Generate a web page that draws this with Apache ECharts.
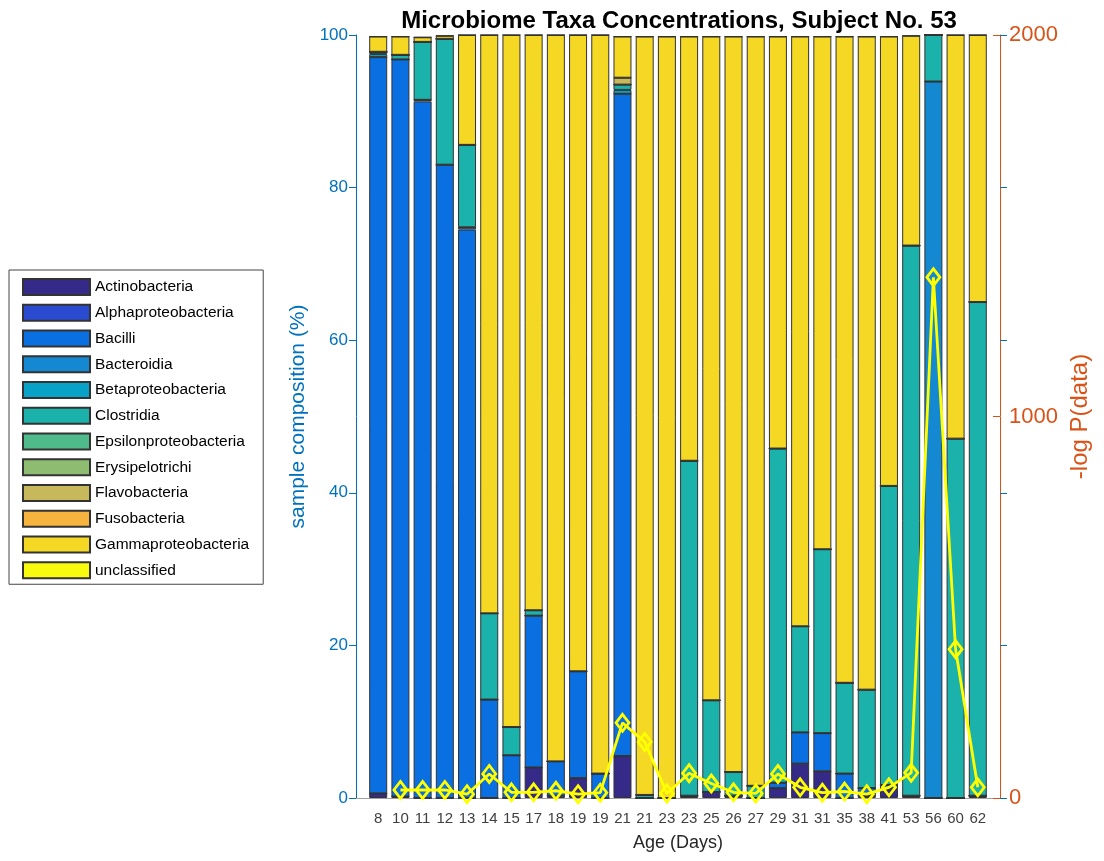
<!DOCTYPE html>
<html>
<head>
<meta charset="utf-8">
<script src="https://cdn.jsdelivr.net/npm/echarts@6/dist/echarts.min.js"></script>
<style>
html,body{margin:0;padding:0;background:#fff;}
#chart{width:1104px;height:861px;}
</style>
</head>
<body>
<div id="chart"></div>
<script>
// ---- DATA ----
const ages = [8,10,11,12,13,14,15,17,18,19,19,21,21,23,23,25,26,27,29,31,31,35,38,41,53,56,60,62];
const taxa = ['Actinobacteria','Alphaproteobacteria','Bacilli','Bacteroidia','Betaproteobacteria','Clostridia','Epsilonproteobacteria','Erysipelotrichi','Flavobacteria','Fusobacteria','Gammaproteobacteria','unclassified'];
const actinobacteria      = [0.6,0.2,0,0,0,0,0,4.0,0.3,2.6,0,5.5,0,0,0.3,0.8,0.3,0,1.3,4.5,3.5,0,0.3,1.2,0.3,0,0,0.3];
const alphaproteobacteria = [0,0,0,0,0,0,0,0,0,0,0,0,0,0,0,0,0,0,0,0,0,0,0,0,0,0,0,0];
const bacilli             = [96.5,96.6,91.3,83.0,74.5,12.9,5.6,19.9,4.5,14.0,3.2,86.8,0,0,0,0,0,0,0.7,4.1,5.0,3.2,1.0,0.5,0,0,0,0];
const bacteroidia         = [0,0,0.2,0,0.3,0,0,0,0,0,0,0,0,0,0,0,0,0,0,0,0,0,0,0,0,93.9,0,0];
const betaproteobacteria  = [0.4,0,0,0,0,0,0,0,0,0,0,0.5,0,0,0,0,0,0,0,0,0,0,0,0,0,0,0,0];
const clostridia          = [0.3,0.6,7.6,16.5,10.8,11.3,3.7,0.7,0,0,0,0.7,0.4,0,43.9,12.0,3.1,1.6,43.8,13.9,24.1,11.9,12.9,39.2,72.1,6.1,47.1,64.7];
const epsilonproteobacteria=[0,0,0,0,0,0,0,0,0,0,0,0,0,0,0,0,0,0,0,0,0,0,0,0,0,0,0,0];
const erysipelotrichi     = [0,0,0,0,0,0,0,0,0,0,0,0,0,0,0,0,0,0,0,0,0,0,0,0,0,0,0,0];
const flavobacteria       = [0,0,0,0,0,0,0,0,0,0,0,0.9,0,0,0,0,0,0,0,0,0,0,0,0,0,0,0,0];
const fusobacteria        = [0,0,0,0,0,0,0,0,0,0,0,0,0,0,0,0,0,0,0,0,0,0,0,0,0,0,0,0];
const gammaproteobacteria = [2.0,2.4,0.6,0.4,14.4,75.8,90.7,75.4,95.2,83.4,96.8,5.4,99.4,99.8,55.6,87.0,96.4,98.2,54.0,77.3,67.2,84.7,85.6,58.9,27.5,0,52.9,35.0];
const unclassified        = [0,0,0,0,0,0,0,0,0,0,0,0,0,0,0,0,0,0,0,0,0,0,0,0,0,0,0,0];
const negLogP = [null,21,21,21,10,63,15,15,19,10,14,197,147,12,65,38,15,12,63,28,14,17,10,28,66,1365,390,28];
const leftTicks = [0,20,40,60,80,100];
const rightTicks = [0,1000,2000];

// ---- STYLE ----
const colors = ['#352a87','#2a4bd0','#0a6fe0','#1488d0','#08a2c8','#1cb2ac','#4fbb8a','#8ebd71','#c8b85c','#f6b33e','#f5d824','#f9fb0e'];
const seriesValues = [actinobacteria,alphaproteobacteria,bacilli,bacteroidia,betaproteobacteria,clostridia,epsilonproteobacteria,erysipelotrichi,flavobacteria,fusobacteria,gammaproteobacteria,unclassified];
const FONT = 'Liberation Sans, Arial, Helvetica, sans-serif';
const BLUE = '#0072bd', ORANGE = '#d95319';
const PLOT_W = 1104 - 356 - 104;

// padded category slots: one empty slot at each end (x-limits 0..N+1)
const slots = ['s0'].concat(ages.map((a, i) => 's' + (i + 1)), ['s' + (ages.length + 1)]);
const pad = arr => ['-'].concat(arr.map(v => (v === null ? '-' : v)), ['-']);

const barSeries = taxa.map((name, k) => ({
  name: name,
  type: 'bar',
  stack: 'comp',
  barWidth: 18,
  xAxisIndex: 0, yAxisIndex: 0,
  itemStyle: { color: colors[k], borderColor: '#333333', borderWidth: 1 },
  emphasis: { disabled: true },
  data: pad(seriesValues[k])
}));

const gridRect = { left: 356, right: 104, top: 35, bottom: 63, containLabel: false };
const hiddenX = gi => ({ type: 'value', gridIndex: gi, min: 0, max: 29, show: false });

const chart = echarts.init(document.getElementById('chart'), null, { renderer: 'canvas' });
chart.setOption({
  animation: false,
  backgroundColor: '#ffffff',
  color: colors,
  textStyle: { fontFamily: FONT },
  title: {
    text: 'Microbiome Taxa Concentrations, Subject No. 53',
    left: 674, top: 4, textAlign: 'center',
    textStyle: { fontFamily: FONT, fontSize: 24, fontWeight: 'bold', color: '#000' }
  },
  legend: {
    data: taxa,
    orient: 'vertical',
    left: 9, top: 270,
    icon: 'rect',
    itemWidth: 67, itemHeight: 16, itemGap: 7.75,
    padding: [8, 14, 5, 13],
    borderColor: '#444', borderWidth: 1,
    backgroundColor: '#fff',
    selectedMode: false,
    textStyle: { fontFamily: FONT, fontSize: 15.5, color: '#000' }
  },
  grid: [Object.assign({}, gridRect), Object.assign({}, gridRect), Object.assign({}, gridRect)],
  xAxis: [{
    type: 'category', gridIndex: 0, data: slots, boundaryGap: false,
    name: 'Age (Days)', nameLocation: 'middle', nameGap: 36,
    nameTextStyle: { fontFamily: FONT, fontSize: 18, color: '#262626' },
    axisLine: { show: true, lineStyle: { color: '#5aa0d8', width: 1 } },
    axisTick: { show: false },
    splitLine: { show: false },
    axisLabel: {
      interval: 0, fontFamily: FONT, fontSize: 15, color: '#404040', margin: 13,
      formatter: (v, idx) => (idx >= 1 && idx <= ages.length) ? String(ages[idx - 1]) : ''
    }
  }, {
    type: 'value', gridIndex: 1, position: 'top', min: 0, max: 29,
    axisLine: { show: true, lineStyle: { color: '#a0a0a0', width: 1 } },
    axisTick: { show: false }, axisLabel: { show: false }, splitLine: { show: false }
  }, hiddenX(2)],
  yAxis: [{
    type: 'value', gridIndex: 0, position: 'left', min: 0, max: 100, interval: 20,
    name: 'sample composition (%)', nameLocation: 'middle', nameGap: 42,
    nameTextStyle: { fontFamily: FONT, fontSize: 21, color: BLUE },
    axisLine: { show: true, lineStyle: { color: BLUE, width: 1 } },
    axisTick: { show: false },
    axisLabel: { fontFamily: FONT, fontSize: 17, color: BLUE, margin: 8,
      formatter: v => leftTicks.indexOf(v) >= 0 ? String(v) : '' },
    splitLine: { show: false }
  }, {
    type: 'value', gridIndex: 0, position: 'right', min: 0, max: 2000, interval: 1000,
    name: '-log P(data)', nameLocation: 'middle', nameGap: 68,
    nameTextStyle: { fontFamily: FONT, fontSize: 24, color: ORANGE },
    axisLine: { show: true, lineStyle: { color: ORANGE, width: 1 } },
    axisTick: { show: true, inside: true, length: 7, lineStyle: { color: ORANGE } },
    axisLabel: { fontFamily: FONT, fontSize: 22, color: ORANGE, margin: 9,
      formatter: v => rightTicks.indexOf(v) >= 0 ? String(v) : '' },
    splitLine: { show: false }
  }, {
    // blue composition ticks mirrored on the right edge
    type: 'value', gridIndex: 1, position: 'right', min: 0, max: 100, interval: 20,
    axisLine: { show: false },
    axisTick: { show: true, inside: true, length: 7, lineStyle: { color: BLUE } },
    axisLabel: { show: false }, splitLine: { show: false }
  }, {
    // blue composition ticks on the left edge, pointing into the plot
    type: 'value', gridIndex: 2, position: 'right', offset: -PLOT_W, min: 0, max: 100, interval: 20,
    axisLine: { show: false },
    axisTick: { show: true, inside: false, length: 7, lineStyle: { color: BLUE } },
    axisLabel: { show: false }, splitLine: { show: false }
  }],
  series: barSeries.concat([{
    name: '-log P(data)',
    type: 'line',
    xAxisIndex: 0, yAxisIndex: 1,
    z: 10,
    symbol: 'diamond',
    symbolSize: [13, 17],
    lineStyle: { color: '#ffff00', width: 2.8 },
    itemStyle: { color: 'rgba(0,0,0,0)', borderColor: '#ffff00', borderWidth: 2.8 },
    emphasis: { disabled: true },
    data: pad(negLogP)
  }])
});
</script>
</body>
</html>
